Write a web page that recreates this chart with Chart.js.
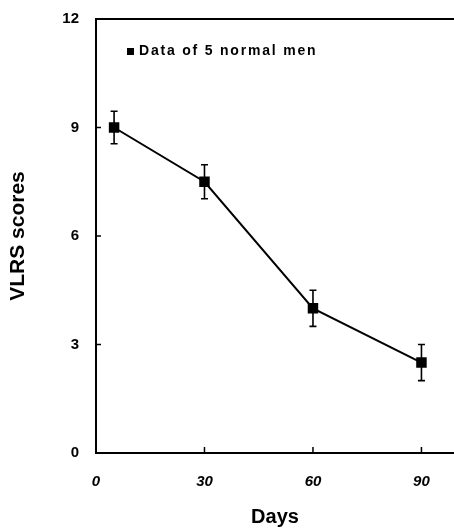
<!DOCTYPE html>
<html>
<head>
<meta charset="utf-8">
<script src="https://cdn.jsdelivr.net/npm/chart.js@4"></script>
<style>
    html, body { margin: 0; padding: 0; background: #fff; overflow: hidden; }
    #wrap { width: 454px; height: 529px; position: relative; }
</style>
</head>
<body>
<div id="wrap"><canvas id="vlrsChart"></canvas></div>
<script>
const days = [5, 30, 60, 90];
const scores = [9.0, 7.5, 4.0, 2.5];
const errors = [0.45, 0.47, 0.5, 0.5];
const xTicks = [0, 30, 60, 90];
const yTicks = [0, 3, 6, 9, 12];
const seriesLabel = 'Data of 5 normal men';

const FONT = '"Liberation Sans", Arial, Helvetica, sans-serif';

// error bars + inward ticks + top frame line + legend text
const decorations = {
    id: 'decorations',
    afterDatasetsDraw(chart) {
        const ctx = chart.ctx;
        const x = chart.scales.x;
        const y = chart.scales.y;
        ctx.save();
        ctx.strokeStyle = '#000';
        ctx.lineWidth = 1.6;
        days.forEach((d, i) => {
            const px = x.getPixelForValue(d);
            const top = y.getPixelForValue(scores[i] + errors[i]);
            const bot = y.getPixelForValue(scores[i] - errors[i]);
            ctx.beginPath();
            ctx.moveTo(px, top);
            ctx.lineTo(px, bot);
            ctx.moveTo(px - 3.5, top);
            ctx.lineTo(px + 3.5, top);
            ctx.moveTo(px - 3.5, bot);
            ctx.lineTo(px + 3.5, bot);
            ctx.stroke();
        });
        ctx.restore();
    },
    afterDraw(chart) {
        const ctx = chart.ctx;
        const area = chart.chartArea;
        const x = chart.scales.x;
        const y = chart.scales.y;
        ctx.save();
        ctx.strokeStyle = '#000';
        ctx.lineWidth = 1.5;
        ctx.beginPath();
        xTicks.slice(1).forEach(v => {
            const px = x.getPixelForValue(v);
            ctx.moveTo(px, area.bottom);
            ctx.lineTo(px, area.bottom - 6);
        });
        yTicks.slice(1, -1).forEach(v => {
            const py = y.getPixelForValue(v);
            ctx.moveTo(area.left, py);
            ctx.lineTo(area.left + 5, py);
        });
        ctx.stroke();

        // top border
        ctx.lineWidth = 2;
        ctx.beginPath();
        ctx.moveTo(area.left, area.top);
        ctx.lineTo(area.right, area.top);
        ctx.stroke();

        // legend
        ctx.fillStyle = '#000';
        ctx.fillRect(area.left + 31, area.top + 29, 7, 7);
        ctx.font = 'bold 14px ' + FONT;
        ctx.letterSpacing = '1.8px';
        ctx.textBaseline = 'middle';
        ctx.fillText(seriesLabel, area.left + 43, area.top + 32);
        ctx.restore();
    }
};

const ctx = document.getElementById('vlrsChart').getContext('2d');
new Chart(ctx, {
    type: 'line',
    data: {
        datasets: [{
            label: seriesLabel,
            data: days.map((d, i) => ({ x: d, y: scores[i] })),
            borderColor: '#000',
            backgroundColor: '#000',
            borderWidth: 2,
            pointStyle: 'rect',
            pointRadius: 6,
            tension: 0
        }]
    },
    options: {
        responsive: true,
        maintainAspectRatio: false,
        animation: false,
        layout: {
            autoPadding: false,
            padding: { top: 19, right: 0, bottom: 0, left: 6 }
        },
        plugins: {
            legend: { display: false },
            tooltip: { enabled: false }
        },
        scales: {
            x: {
                type: 'linear',
                min: 0,
                max: 99,
                afterBuildTicks: (axis) => { axis.ticks = xTicks.map(v => ({ value: v })); },
                afterFit: (axis) => { axis.height = 76; },
                grid: { display: false, drawTicks: false },
                border: { display: true, color: '#000', width: 2 },
                ticks: {
                    color: '#000',
                    padding: 20,
                    font: { family: FONT, size: 15, weight: 'bold', style: 'italic' }
                },
                title: {
                    display: true,
                    text: 'Days',
                    color: '#000',
                    padding: { top: 12, bottom: 0 },
                    font: { family: FONT, size: 20, weight: 'bold' }
                }
            },
            y: {
                type: 'linear',
                min: 0,
                max: 12,
                afterBuildTicks: (axis) => { axis.ticks = yTicks.map(v => ({ value: v })); },
                afterFit: (axis) => {
                    axis.width = 90;
                    axis.paddingTop = 0;
                    axis.paddingBottom = 0;
                },
                grid: { display: false, drawTicks: false },
                border: { display: true, color: '#000', width: 2 },
                ticks: {
                    color: '#000',
                    padding: 17,
                    font: { family: FONT, size: 15, weight: 'bold' }
                },
                title: {
                    display: true,
                    text: 'VLRS scores',
                    color: '#000',
                    padding: { top: 0, bottom: 24 },
                    font: { family: FONT, size: 21, weight: 'bold' }
                }
            }
        }
    },
    plugins: [decorations]
});
</script>
</body>
</html>
